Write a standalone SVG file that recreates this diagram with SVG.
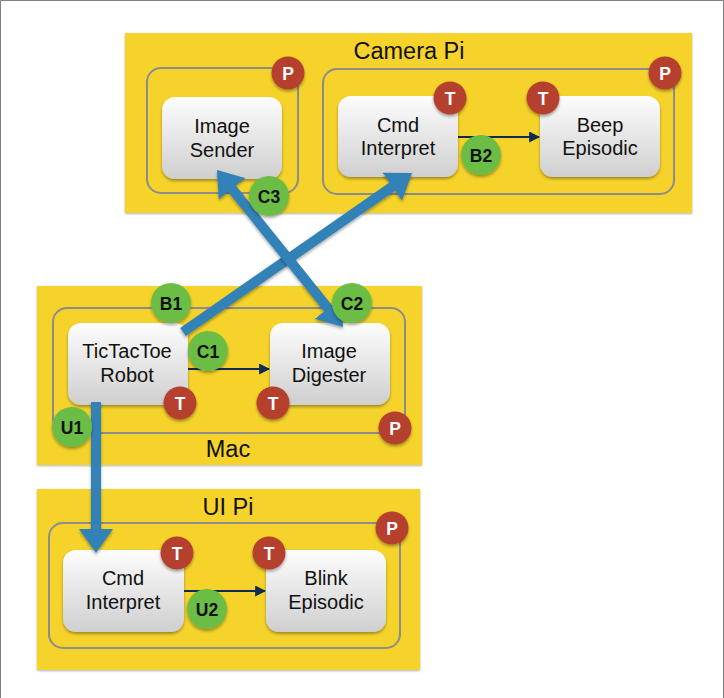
<svg xmlns="http://www.w3.org/2000/svg" width="724" height="698" viewBox="0 0 724 698">
<defs>
<style>
.grp{fill:#F5D329;filter:url(#sh1)}
.proc{fill:none;stroke:#8C8C8C;stroke-width:2}
.node{fill:url(#ng);filter:url(#sh2)}
.lbl{font-family:"Liberation Sans",Arial,sans-serif;font-size:20px;fill:#111;text-anchor:middle}
.ttl{font-family:"Liberation Sans",Arial,sans-serif;font-size:23.5px;fill:#111;text-anchor:middle}
.red{fill:#B5412E;filter:url(#sh2)}
.grn{fill:#6CBD45;filter:url(#sh2)}
.bw{font-family:"Liberation Sans",Arial,sans-serif;font-size:17.5px;font-weight:bold;fill:#fff;text-anchor:middle}
.bk{font-family:"Liberation Sans",Arial,sans-serif;font-size:17.5px;font-weight:bold;fill:#111;text-anchor:middle}
.thin{stroke:#0E2A55;stroke-width:2;fill:none;marker-end:url(#ah)}
.big{stroke:#3181B7;stroke-width:10;fill:none;filter:url(#sh3)}
</style>
<linearGradient id="ng" x1="0" y1="0" x2="0" y2="1">
<stop offset="0" stop-color="#FDFDFD"/>
<stop offset="1" stop-color="#CFCFCF"/>
</linearGradient>
<filter id="sh1" x="-5%" y="-5%" width="110%" height="115%">
<feDropShadow dx="0" dy="1" stdDeviation="1.2" flood-color="#000" flood-opacity="0.3"/>
</filter>
<filter id="sh2" x="-20%" y="-20%" width="140%" height="140%">
<feDropShadow dx="0" dy="2" stdDeviation="1.5" flood-color="#000" flood-opacity="0.35"/>
</filter>
<filter id="sh3" filterUnits="userSpaceOnUse" x="0" y="0" width="724" height="698">
<feDropShadow dx="0" dy="2" stdDeviation="1.5" flood-color="#000" flood-opacity="0.35"/>
</filter>
<marker id="ah" viewBox="0 0 10 10" refX="9" refY="5" markerWidth="11" markerHeight="11" markerUnits="userSpaceOnUse" orient="auto">
<path d="M0,0 L10,5 L0,10 z" fill="#0E2A55"/>
</marker>
<marker id="bh" viewBox="0 0 24 34" refX="4" refY="17" markerWidth="24" markerHeight="34" markerUnits="userSpaceOnUse" orient="auto-start-reverse">
<path d="M0,0 L24,17 L0,34 z" fill="#3181B7"/>
</marker>
</defs>
<rect x="0" y="0" width="724" height="698" fill="#fff"/>
<path d="M0.5,698 V0.5 H723.5 V698" fill="none" stroke="#808080" stroke-width="1"/>

<g id="camera-pi">
<rect class="grp" x="125" y="33" width="567" height="180"/>
<text class="ttl" x="409" y="59">Camera Pi</text>
<rect class="proc" x="147" y="68" width="151" height="125" rx="14"/>
<rect class="proc" x="323" y="69" width="351" height="125" rx="14"/>
</g>
<g id="mac">
<rect class="grp" x="37" y="286" width="385" height="179"/>
<rect class="proc" x="53" y="308" width="352" height="125" rx="14"/>
<text class="ttl" x="228" y="457">Mac</text>
</g>
<g id="ui-pi">
<rect class="grp" x="37" y="489" width="383" height="181"/>
<text class="ttl" x="228" y="515">UI Pi</text>
<rect class="proc" x="49" y="523" width="351" height="125" rx="14"/>
</g>

<g id="image-sender">
<rect class="node" x="162" y="97" width="120" height="82" rx="13"/>
<text class="lbl" x="222" y="133">Image</text>
<text class="lbl" x="222" y="157">Sender</text>
</g>
<g id="cam-cmd-interpret">
<rect class="node" x="338" y="96" width="120" height="81" rx="13"/>
<text class="lbl" x="398" y="132">Cmd</text>
<text class="lbl" x="398" y="155">Interpret</text>
</g>
<g id="beep-episodic">
<rect class="node" x="540" y="96" width="120" height="81" rx="13"/>
<text class="lbl" x="600" y="132">Beep</text>
<text class="lbl" x="600" y="155">Episodic</text>
</g>
<g id="tictactoe-robot">
<rect class="node" x="68" y="323" width="120" height="82" rx="13"/>
<text class="lbl" x="127" y="358">TicTacToe</text>
<text class="lbl" x="127" y="382">Robot</text>
</g>
<g id="image-digester">
<rect class="node" x="270" y="323" width="120" height="82" rx="13"/>
<text class="lbl" x="329" y="358">Image</text>
<text class="lbl" x="329" y="382">Digester</text>
</g>
<g id="ui-cmd-interpret">
<rect class="node" x="63" y="550" width="121" height="82" rx="13"/>
<text class="lbl" x="123" y="585">Cmd</text>
<text class="lbl" x="123" y="609">Interpret</text>
</g>
<g id="blink-episodic">
<rect class="node" x="266" y="550" width="120" height="82" rx="13"/>
<text class="lbl" x="326" y="585">Blink</text>
<text class="lbl" x="326" y="609">Episodic</text>
</g>

<g id="connectors">
<line class="thin" x1="458" y1="137" x2="539" y2="137"/>
<line class="thin" x1="188" y1="369" x2="269" y2="369"/>
<line class="thin" x1="184" y1="591" x2="265" y2="591"/>
<line class="big" x1="183" y1="332" x2="395.6" y2="184.4" marker-end="url(#bh)"/>
<line class="big" x1="229.5" y1="185.6" x2="330.5" y2="311.4" marker-start="url(#bh)" marker-end="url(#bh)"/>
<line class="big" x1="96" y1="402" x2="96" y2="533" marker-end="url(#bh)"/>
</g>

<g id="badges">
<g id="p-sender"><circle class="red" cx="288" cy="73" r="16.5"/><text class="bw" x="288" y="79.5">P</text></g>
<g id="p-camera"><circle class="red" cx="665" cy="73" r="16.5"/><text class="bw" x="665" y="79.5">P</text></g>
<g id="t-cam-cmd"><circle class="red" cx="450" cy="98" r="16.5"/><text class="bw" x="450" y="104.5">T</text></g>
<g id="t-beep"><circle class="red" cx="543" cy="98" r="16.5"/><text class="bw" x="543" y="104.5">T</text></g>
<g id="b2"><circle class="grn" cx="481" cy="155" r="20"/><text class="bk" x="481" y="161.5">B2</text></g>
<g id="c3"><circle class="grn" cx="269" cy="196" r="20"/><text class="bk" x="269" y="202.5">C3</text></g>
<g id="b1"><circle class="grn" cx="171" cy="303" r="20"/><text class="bk" x="171" y="309.5">B1</text></g>
<g id="c2"><circle class="grn" cx="352" cy="303" r="20"/><text class="bk" x="352" y="309.5">C2</text></g>
<g id="c1"><circle class="grn" cx="208" cy="351" r="20"/><text class="bk" x="208" y="357.5">C1</text></g>
<g id="t-robot"><circle class="red" cx="180" cy="403" r="16.5"/><text class="bw" x="180" y="409.5">T</text></g>
<g id="t-digester"><circle class="red" cx="273" cy="403" r="16.5"/><text class="bw" x="273" y="409.5">T</text></g>
<g id="u1"><circle class="grn" cx="72" cy="427" r="20"/><text class="bk" x="72" y="433.5">U1</text></g>
<g id="p-mac"><circle class="red" cx="395" cy="428" r="16.5"/><text class="bw" x="395" y="434.5">P</text></g>
<g id="p-ui"><circle class="red" cx="392" cy="528" r="16.5"/><text class="bw" x="392" y="534.5">P</text></g>
<g id="t-ui-cmd"><circle class="red" cx="177" cy="553" r="16.5"/><text class="bw" x="177" y="559.5">T</text></g>
<g id="t-blink"><circle class="red" cx="269" cy="553" r="16.5"/><text class="bw" x="269" y="559.5">T</text></g>
<g id="u2"><circle class="grn" cx="207" cy="609" r="20"/><text class="bk" x="207" y="615.5">U2</text></g>
</g>
</svg>
